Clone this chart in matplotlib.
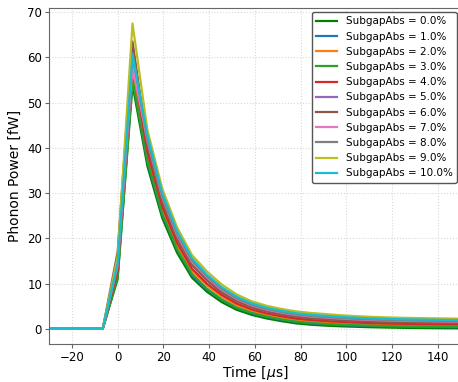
import matplotlib
matplotlib.use("Agg")
import matplotlib.pyplot as plt

# time axis [us]
time_us = [-32.5, -26, -19.5, -13, -6.5, 0, 6.5, 13, 19.5, 26, 32.5, 39, 45.5, 52,
           58.5, 65, 71.5, 78, 84.5, 91, 97.5, 104, 110.5, 117, 123.5, 130, 136.5,
           143, 149.5, 156]

subgap_pct = [0.0, 1.0, 2.0, 3.0, 4.0, 5.0, 6.0, 7.0, 8.0, 9.0, 10.0]

# phonon power [fW] per subgap absorption
p_00 = [0, 0, 0, 0, 0, 11, 54, 36, 24.5, 16.8, 11.3, 8.2, 5.9, 4.2, 3.1, 2.3, 1.7, 1.2,
        0.9, 0.7, 0.55, 0.45, 0.35, 0.28, 0.22, 0.18, 0.15, 0.12, 0.1, 0.1]
p_01 = [0, 0, 0, 0, 0, 12, 55.5, 37.0, 25.3, 17.5, 11.9, 8.7, 6.4, 4.6, 3.5, 2.64, 2.02,
        1.52, 1.21, 1.01, 0.84, 0.73, 0.63, 0.55, 0.49, 0.44, 0.41, 0.38, 0.36, 0.35]
p_02 = [0, 0, 0, 0, 0, 12.5, 56, 38.4, 26.5, 18.5, 12.8, 9.6, 7.1, 5.2, 4.0, 3.14, 2.51,
        2.0, 1.68, 1.47, 1.29, 1.16, 1.04, 0.96, 0.89, 0.84, 0.8, 0.77, 0.74, 0.73]
p_03 = [0, 0, 0, 0, 0, 11.5, 55, 37.2, 25.5, 17.6, 12.1, 8.9, 6.5, 4.7, 3.55, 2.72, 2.1,
        1.6, 1.29, 1.08, 0.92, 0.8, 0.7, 0.62, 0.55, 0.51, 0.48, 0.44, 0.42, 0.42]
p_04 = [0, 0, 0, 0, 0, 13, 59, 39.2, 27.1, 19.0, 13.3, 10.0, 7.5, 5.6, 4.3, 3.42, 2.78,
        2.26, 1.94, 1.72, 1.53, 1.39, 1.27, 1.18, 1.11, 1.06, 1.02, 0.98, 0.96, 0.94]
p_05 = [0, 0, 0, 0, 0, 15, 62.5, 40.8, 28.4, 20.2, 14.3, 10.9, 8.2, 6.2, 4.9, 3.98, 3.32,
        2.79, 2.46, 2.23, 2.02, 1.86, 1.73, 1.63, 1.55, 1.5, 1.46, 1.42, 1.38, 1.36]
p_06 = [0, 0, 0, 0, 0, 17, 63.5, 40.4, 28.1, 19.9, 14.1, 10.7, 8.0, 6.1, 4.75, 3.84, 3.19,
        2.66, 2.33, 2.1, 1.9, 1.74, 1.62, 1.52, 1.44, 1.39, 1.35, 1.31, 1.28, 1.26]
p_07 = [0, 0, 0, 0, 0, 14, 58, 41.6, 29.1, 20.7, 14.8, 11.4, 8.6, 6.6, 5.2, 4.26, 3.59,
        3.06, 2.72, 2.49, 2.27, 2.1, 1.96, 1.86, 1.77, 1.72, 1.68, 1.63, 1.6, 1.57]
p_08 = [0, 0, 0, 0, 0, 15, 61, 42.0, 29.4, 21.0, 15.1, 11.6, 8.8, 6.75, 5.35, 4.4, 3.73,
        3.19, 2.85, 2.61, 2.39, 2.21, 2.08, 1.97, 1.89, 1.83, 1.79, 1.74, 1.71, 1.68]
p_09 = [0, 0, 0, 0, 0, 16, 67.5, 44.0, 31.0, 22.4, 16.3, 12.7, 9.8, 7.6, 6.1, 5.1, 4.4,
        3.85, 3.5, 3.25, 3.0, 2.8, 2.65, 2.53, 2.44, 2.38, 2.33, 2.28, 2.24, 2.2]
p_10 = [0, 0, 0, 0, 0, 14.5, 60.5, 42.8, 30.0, 21.6, 15.6, 12.0, 9.2, 7.1, 5.65, 4.68, 4.0,
        3.45, 3.11, 2.87, 2.63, 2.45, 2.31, 2.19, 2.11, 2.05, 2.0, 1.96, 1.92, 1.89]

powers = [p_00, p_01, p_02, p_03, p_04, p_05, p_06, p_07, p_08, p_09, p_10]
colors = ["green", "tab:blue", "tab:orange", "tab:green", "tab:red", "tab:purple",
          "tab:brown", "tab:pink", "tab:gray", "tab:olive", "tab:cyan"]

fig = plt.figure(figsize=(4.58, 3.82), dpi=100)
ax = fig.add_axes([0.107, 0.099, 0.899, 0.880])

for pct, power, color in zip(subgap_pct, powers, colors):
    ax.plot(time_us, power, color=color, lw=1.6, label=f"SubgapAbs = {pct:.1f}%")

ax.set_xlim(-30, 150)
ax.set_ylim(-3.4, 70.9)
ax.set_xlabel("Time [$\\mu$s]", fontsize=10, labelpad=0)
ax.set_ylabel("Phonon Power [fW]", fontsize=10, labelpad=4)
ax.tick_params(labelsize=8.5, color="#666666", length=3, pad=2)
for side in ["left", "bottom", "top", "right"]:
    ax.spines[side].set_color("#666666")
ax.grid(True, linestyle=":", color="#d8d8d8", lw=0.8)

leg = ax.legend(loc="upper right", fontsize=7.5, framealpha=1, borderaxespad=0.4)
leg.get_frame().set_edgecolor("#555555")

fig.savefig("out.png", dpi=100)
